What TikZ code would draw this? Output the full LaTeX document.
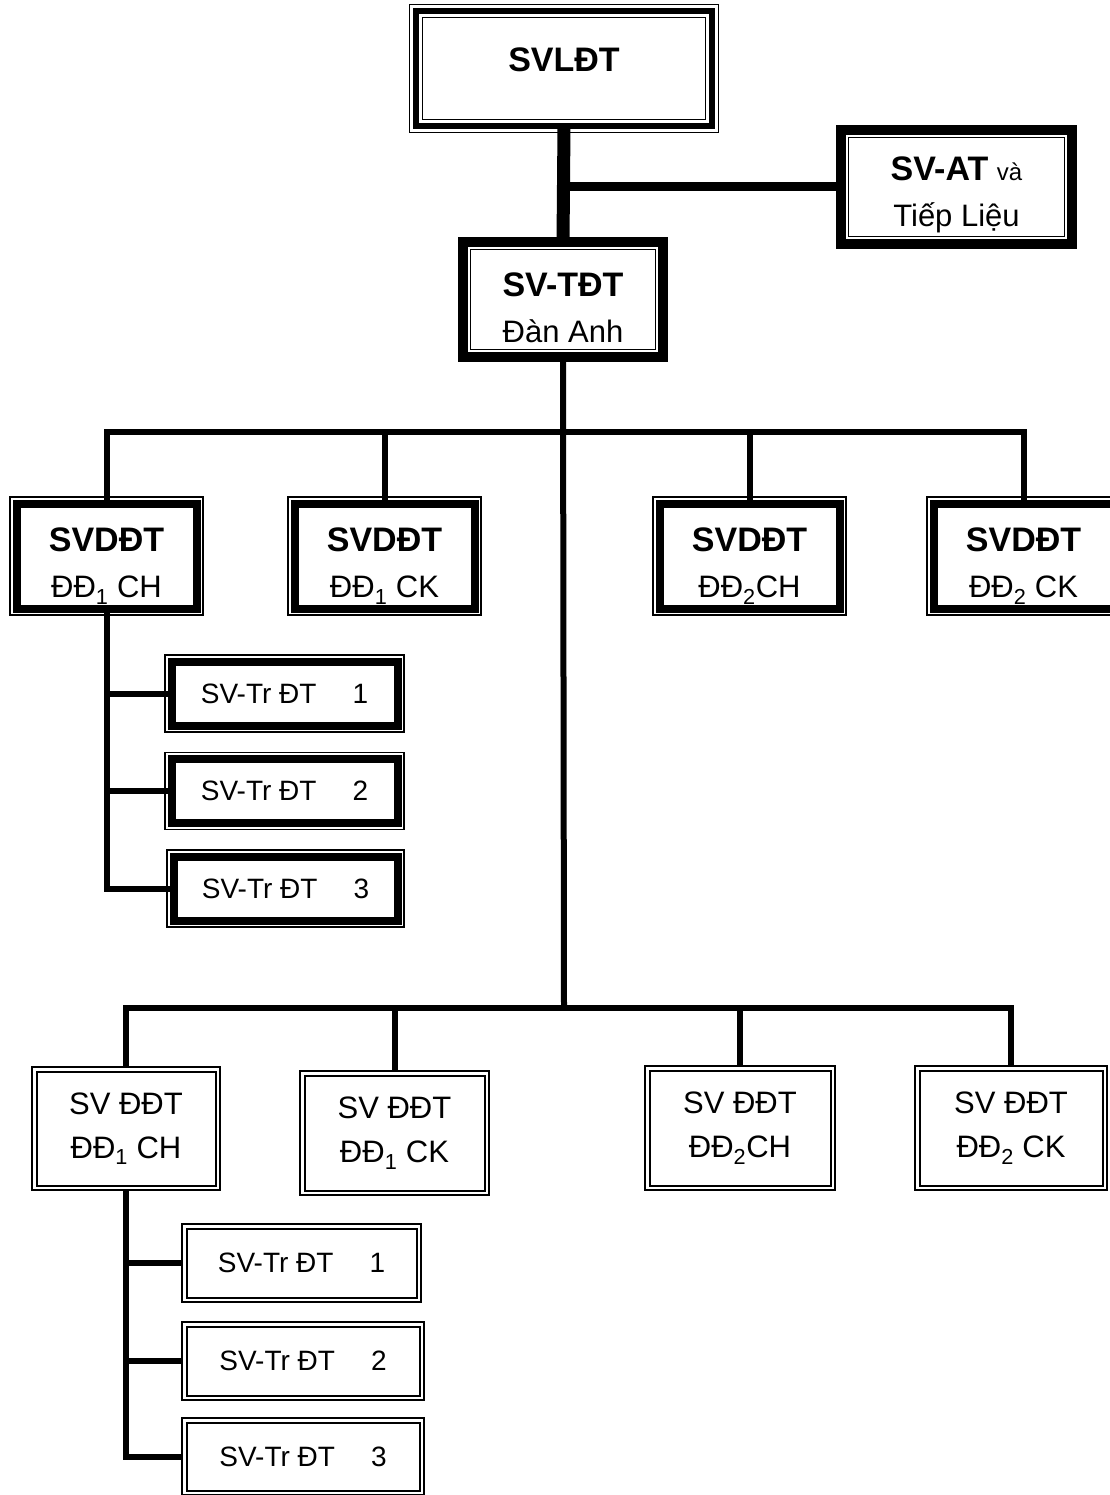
\documentclass[tikz,border=0pt]{standalone}
\usepackage{fontspec}
\setmainfont{Liberation Sans}
\newcommand\ttl{\fontsize{34}{46}\selectfont\bfseries}
\begin{document}
\begin{tikzpicture}[x=1pt,y=-1pt,
  every node/.style={inner sep=0pt, outer sep=0pt},
  every label/.style={inner sep=0pt, outer sep=0pt},
  heavybox/.style={draw, line width=8pt, fill=white, align=center, font=\fontsize{31}{46}\selectfont},
  lightbox/.style={draw, line width=1.5pt, fill=white, align=center, font=\fontsize{31}{44}\selectfont},
  boxtext/.style={align=center, font=\fontsize{31}{46}\selectfont, yshift=#1},
  trtext/.style={font=\fontsize{28}{34}\selectfont},
  framefine/.style={line width=1.2pt},
  framedbl/.style={line width=2pt},
  link/.style={line width=6pt},
  trunk/.style={line width=13pt},
  arm/.style={line width=9pt}]
\useasboundingbox[fill=white] (0,0) rectangle (1109,1495);

% top level
\node[heavybox, line width=6pt, minimum width=296pt, minimum height=115pt, text height=25pt, text depth=18pt] (ldt) at (564,68.5) {\ttl SVLĐT};
\node[heavybox, line width=10pt, minimum width=231pt, minimum height=114pt,
  label={[boxtext=-8pt]center:{\ttl SV-AT} {\fontsize{24}{44}\selectfont và}\\Tiếp Liệu}] (at) at (956.5,187) {};
\node[heavybox, line width=10pt, minimum width=200pt, minimum height=115pt,
  label={[boxtext=-8pt]center:{\ttl SV-TĐT}\\Đàn Anh}] (tdt) at (563,299.5) {};

% upper row
\node[heavybox, minimum width=180pt, minimum height=105pt,
  label={[boxtext=-10pt]center:{\ttl SVDĐT}\\ĐĐ\textsubscript{1} CH}] (b1) at (106.5,556) {};
\node[heavybox, minimum width=180pt, minimum height=105pt,
  label={[boxtext=-10pt]center:{\ttl SVDĐT}\\ĐĐ\textsubscript{1} CK}] (b2) at (384.5,556) {};
\node[heavybox, minimum width=180pt, minimum height=105pt,
  label={[boxtext=-10pt]center:{\ttl SVDĐT}\\ĐĐ\textsubscript{2}CH}] (b3) at (749.5,556) {};
\node[heavybox, minimum width=180pt, minimum height=105pt,
  label={[boxtext=-10pt]center:{\ttl SVDĐT}\\ĐĐ\textsubscript{2} CK}] (b4) at (1023.5,556) {};

\node[heavybox, trtext, minimum width=226pt, minimum height=64pt] (t1) at (284.5,693.5) {SV-Tr ĐT\hspace{36pt}1};
\node[heavybox, trtext, minimum width=226pt, minimum height=64pt] (t2) at (284.5,791) {SV-Tr ĐT\hspace{36pt}2};
\node[heavybox, trtext, minimum width=224pt, minimum height=64pt] (t3) at (285.5,888.5) {SV-Tr ĐT\hspace{36pt}3};

% lower row
\node[lightbox, minimum width=188pt, minimum height=123pt] (c1) at (126,1128.5) {SV ĐĐT\\ĐĐ\textsubscript{1} CH};
\node[lightbox, minimum width=189pt, minimum height=124pt] (c2) at (394.5,1133) {SV ĐĐT\\ĐĐ\textsubscript{1} CK};
\node[lightbox, minimum width=190pt, minimum height=124pt] (c3) at (740,1128) {SV ĐĐT\\ĐĐ\textsubscript{2}CH};
\node[lightbox, minimum width=192pt, minimum height=124pt] (c4) at (1011,1128) {SV ĐĐT\\ĐĐ\textsubscript{2} CK};

\node[lightbox, trtext, minimum width=239pt, minimum height=78pt] (u1) at (301.5,1263) {SV-Tr ĐT\hspace{36pt}1};
\node[lightbox, trtext, minimum width=242pt, minimum height=78pt] (u2) at (303,1361) {SV-Tr ĐT\hspace{36pt}2};
\node[lightbox, trtext, minimum width=242pt, minimum height=77pt] (u3) at (303,1456.5) {SV-Tr ĐT\hspace{36pt}3};

% outer thin frames
\foreach \n/\d in {ldt/6.5,b1/6.5,b2/6.5,b3/6.5,b4/6.5,t1/6.5,t2/6.5,t3/6.5}
  \draw[framefine] ([xshift=-\d pt,yshift=-\d pt]\n.south west) rectangle ([xshift=\d pt,yshift=\d pt]\n.north east);
% inner thin frames
\foreach \n/\d in {ldt/6.5,at/7.5,tdt/7.5}
  \draw[framefine] ([xshift=\d pt,yshift=\d pt]\n.south west) rectangle ([xshift=-\d pt,yshift=-\d pt]\n.north east);
\foreach \n in {c1,c2,c3,c4,u1,u2,u3}
  \draw[framedbl] ([xshift=4.5pt,yshift=4.5pt]\n.south west) rectangle ([xshift=-4.5pt,yshift=-4.5pt]\n.north east);

% connectors
\coordinate (bus1) at (564,432);
\coordinate (bus2) at (564,1008);
\draw[trunk] (ldt.south) -- (tdt.north);
\draw[arm] (ldt.south |- at.west) -- (at.west);
\draw[link] (tdt.south) -- (bus2);

\draw[link] (b1.north) |- (b4.north |- bus1) -- (b4.north);
\draw[link] (b2.north) -- (b2.north |- bus1);
\draw[link] (b3.north) -- (b3.north |- bus1);

\draw[link] (c1.north) |- (c4.north |- bus2) -- (c4.north);
\draw[link] (c2.north) -- (c2.north |- bus2);
\draw[link] (c3.north) -- (c3.north |- bus2);

\draw[link] (b1.south) |- (t3.west);
\draw[link] (t1.west -| b1.south) -- (t1.west);
\draw[link] (t2.west -| b1.south) -- (t2.west);

\draw[link] (c1.south) |- (u3.west);
\draw[link] (u1.west -| c1.south) -- (u1.west);
\draw[link] (u2.west -| c1.south) -- (u2.west);
\end{tikzpicture}
\end{document}
